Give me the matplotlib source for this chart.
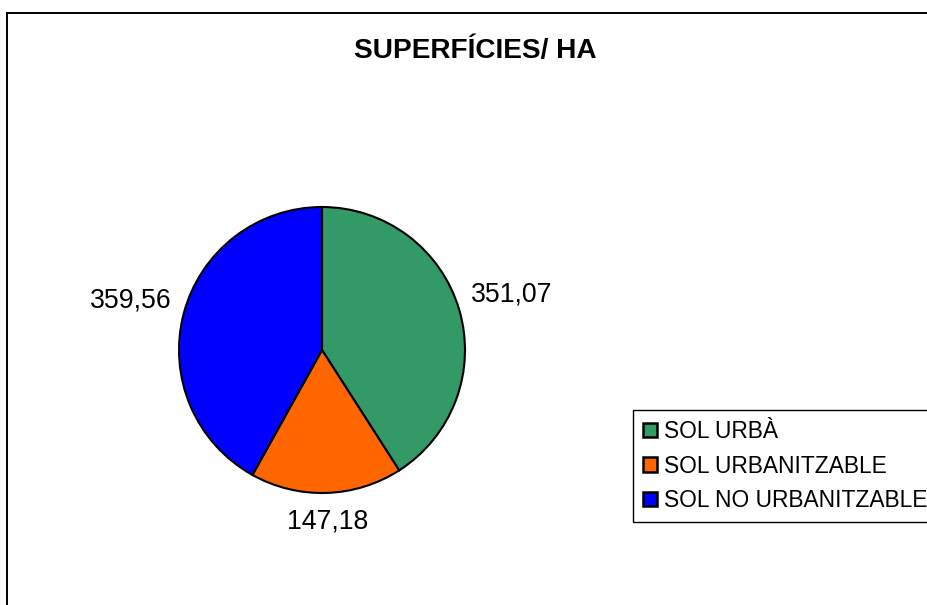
import numpy as np
import matplotlib
matplotlib.use('Agg')
import matplotlib.pyplot as plt
from matplotlib.patches import Rectangle, Patch

plt.rcParams['font.family'] = ['Liberation Sans', 'DejaVu Sans']

title = 'SUPERFÍCIES/ HA'
categories = ['SOL URBÀ', 'SOL URBANITZABLE', 'SOL NO URBANITZABLE']
values = [351.07, 147.18, 359.56]
colors = ['#339966', '#FF6600', '#0000FF']
label_dist = [1.38, 1.20, 1.38]


def main():
    fig = plt.figure(figsize=(9.27, 6.05), dpi=100)

    # outer chart frame (runs off the right and bottom edges)
    fig.patches.append(Rectangle((7.5 / 927, -0.1), 1.2, 1 - 12.5 / 605 + 0.1,
                                 transform=fig.transFigure, fill=False,
                                 edgecolor='black', lw=1.4))

    ax = fig.add_axes([179 / 927, (605 - 350 - 143) / 605, 286 / 927, 286 / 605])
    wedges, _ = ax.pie(values, colors=colors, startangle=90, counterclock=False,
                       radius=1.0, wedgeprops=dict(edgecolor='black', linewidth=1.5))
    ax.set_xlim(-1.0, 1.0)
    ax.set_ylim(-1.0, 1.0)
    ax.set_aspect('equal')
    ax.axis('off')

    for w, v, d in zip(wedges, values, label_dist):
        mid = np.deg2rad((w.theta1 + w.theta2) / 2)
        ax.text(d * np.cos(mid), d * np.sin(mid), f'{v:.2f}'.replace('.', ','),
                ha='center', va='center', fontsize=19.2, clip_on=False)

    fig.text(475 / 927, 1 - 51 / 605, title, ha='center', va='center',
             fontsize=20.2, fontweight='bold')

    handles = [Patch(facecolor=c, edgecolor='black', lw=1.8) for c in colors]
    fig.legend(handles, categories, loc='upper left',
               bbox_to_anchor=(633 / 927, 1 - 410 / 605), borderaxespad=0,
               fontsize=16.4, frameon=True, fancybox=False, edgecolor='black',
               framealpha=1, handlelength=0.6, handleheight=0.6,
               handletextpad=0.3, labelspacing=0.5, borderpad=0.45)

    fig.savefig('out.png', dpi=100)


if __name__ == '__main__':
    main()
